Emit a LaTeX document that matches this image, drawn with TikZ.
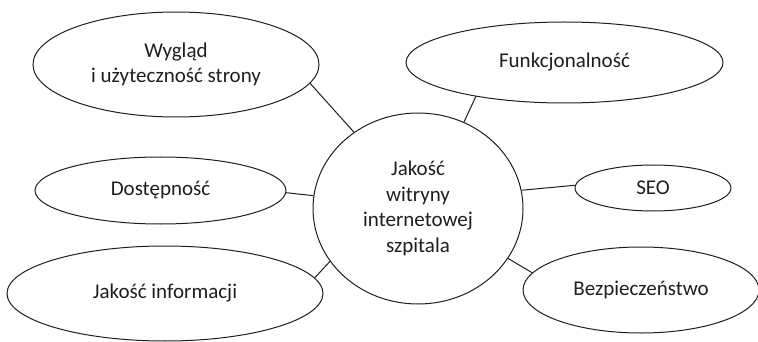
\documentclass[tikz,border=0pt]{standalone}
\usepackage{fontspec}
\setmainfont{Carlito}
\usetikzlibrary{shapes.geometric}
\definecolor{ink}{HTML}{1E1E1E}
\begin{document}
\begin{tikzpicture}[x=1pt,y=-1pt,
  oval/.style={ellipse,draw=ink,line width=1pt,inner sep=0pt,align=center,
    text=ink,font=\fontsize{21}{25.5}\selectfont},
  link/.style={draw=ink,line width=1pt}]
\useasboundingbox (0,0) rectangle (758,342);
\node[oval,minimum width=210,minimum height=191] (c) at (418,208.5)
  {Jakość\\witryny\\internetowej\\szpitala};
\node[oval,minimum width=286,minimum height=105] (w) at (176,64.5)
  {Wygląd\\i użyteczność strony};
\node[oval,minimum width=317,minimum height=81] (f) at (564.5,62.5)
  {Funkcjonalność};
\node[oval,minimum width=251,minimum height=67] (d) at (160.5,190.5)
  {Dostępność};
\node[oval,minimum width=156,minimum height=46] (s) at (653,188)
  {\raisebox{1.5pt}{SEO}};
\node[oval,minimum width=236,minimum height=86] (b) at (641,290)
  {Bezpieczeństwo};
\node[oval,minimum width=316,minimum height=95] (j) at (165,293.5)
  {\raisebox{-2pt}{Jakość informacji}};
\draw[link] (w.-8.7) -- (c.130.7);
\draw[link] (f.201.5) -- (c.62.8);
\draw[link] (d.-1.1) -- (c.173.7);
\draw[link] (s.178.5) -- (c.10.1);
\draw[link] (b.171.3) -- (c.-29.3);
\draw[link] (j.6) -- (c.211.5);
\end{tikzpicture}
\end{document}
